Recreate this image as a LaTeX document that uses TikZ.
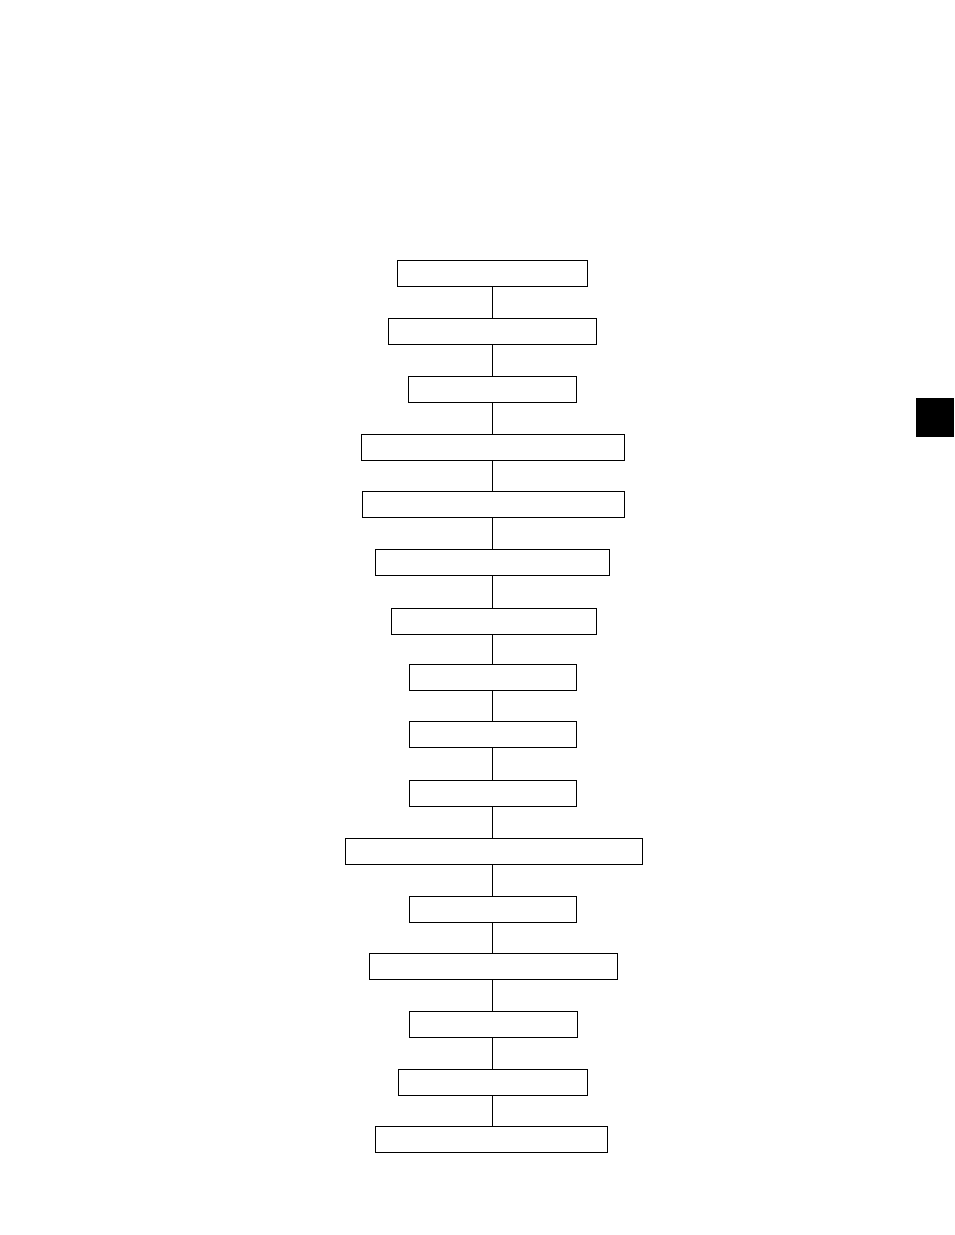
\documentclass[tikz,border=0pt]{standalone}
\begin{document}
\begin{tikzpicture}[x=0.75pt,y=-0.75pt,
  flowbox/.style={draw=black,line width=0.7pt,fill=white,inner sep=0pt,rectangle},
  link/.style={draw=black,line width=0.7pt}]
\useasboundingbox (0,0) rectangle (954,1235);
\coordinate (spine) at (492,0);
\foreach \n/\l/\r/\t in {1/397/587/260,2/388/596/318,3/408/576/376,4/361/624/434,5/362/624/491,6/375/609/549,7/391/596/608,8/409/576/664,9/409/576/721,10/409/576/780,11/345/642/838,12/409/576/896,13/369/617/953,14/409/577/1011,15/398/587/1069,16/375/607/1126}{
  \pgfmathsetmacro{\cx}{(\l+\r)/2}
  \pgfmathsetmacro{\boxw}{(\r-\l)*0.75}
  \node[flowbox,minimum width=\boxw pt,minimum height=19.5pt] (b\n) at (\cx,\t+13) {};
}
\foreach \a/\b in {1/2,2/3,3/4,4/5,5/6,6/7,7/8,8/9,9/10,10/11,11/12,12/13,13/14,14/15,15/16}{
  \draw[link] (b\a.south -| spine) -- (b\b.north -| spine);
}
\node[fill=black,inner sep=0pt,minimum width=28.5pt,minimum height=29.25pt,anchor=north west] (tab) at (916,398) {};
\end{tikzpicture}
\end{document}
